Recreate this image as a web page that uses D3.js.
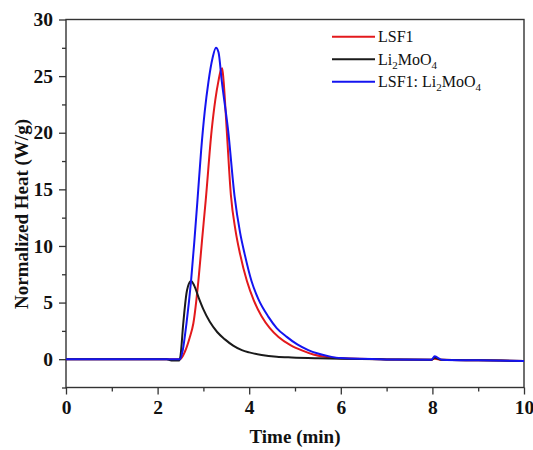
<!DOCTYPE html>
<html>
<head>
<meta charset="utf-8">
<script src="https://cdn.jsdelivr.net/npm/d3@7"></script>
<style>
  body { margin: 0; background: #fff; }
  svg text { font-family: "Liberation Serif", "Times New Roman", serif; }
</style>
</head>
<body>
<svg id="chart"></svg>
<script>
// LSF1
var lsf1Time = [0, 1, 2.2, 2.49, 2.6, 2.7, 2.78, 2.89, 2.97, 3.05, 3.18, 3.26, 3.33, 3.38, 3.41, 3.44, 3.51, 3.6, 3.7, 3.8, 3.95, 4.1, 4.27, 4.45, 4.64, 4.9, 5.15, 5.4, 5.65, 6.0, 7.0, 7.98, 8.05, 8.2, 9.0, 10];
var lsf1Heat = [0, 0, 0, 0, 0.7, 1.9, 3.15, 6.9, 10.5, 14.0, 20.2, 22.9, 24.6, 25.5, 25.7, 24.6, 20.2, 14.5, 11.4, 9.3, 6.9, 5.2, 3.8, 2.75, 1.97, 1.25, 0.78, 0.42, 0.22, 0.08, -0.02, -0.05, 0.05, -0.06, -0.1, -0.15];

// Li2MoO4
var limoTime = [0, 1, 2.2, 2.3, 2.47, 2.5, 2.56, 2.63, 2.7, 2.73, 2.8, 2.9, 3.0, 3.14, 3.3, 3.47, 3.65, 3.84, 4.0, 4.27, 4.6, 4.93, 5.5, 6.0, 7.0, 7.98, 8.05, 8.2, 9.0, 10];
var limoHeat = [0, 0, 0, -0.12, -0.12, 0.3, 3.15, 5.8, 6.8, 6.9, 6.5, 5.4, 4.4, 3.3, 2.4, 1.75, 1.2, 0.8, 0.6, 0.38, 0.22, 0.15, 0.08, 0.04, -0.02, -0.05, 0.12, -0.06, -0.1, -0.15];

// LSF1: Li2MoO4
var mixTime = [0, 1, 2.2, 2.49, 2.55, 2.63, 2.73, 2.8, 2.87, 2.95, 3.03, 3.11, 3.2, 3.275, 3.33, 3.4, 3.54, 3.68, 3.8, 3.9, 4.05, 4.2, 4.42, 4.6, 4.82, 5.05, 5.29, 5.5, 5.75, 6.0, 7.0, 7.98, 8.05, 8.2, 9.0, 10];
var mixHeat = [0, 0, 0, 0, 0.8, 3.15, 6.9, 10.3, 14.0, 18.4, 21.9, 24.5, 26.6, 27.5, 27.1, 24.6, 20.2, 14.4, 11.2, 9.3, 6.9, 5.3, 3.74, 2.75, 1.97, 1.3, 0.8, 0.5, 0.25, 0.1, -0.02, -0.05, 0.25, -0.04, -0.1, -0.15];

var xTicks = [0, 2, 4, 6, 8, 10];
var yTicks = [0, 5, 10, 15, 20, 25, 30];

var series = [
    {label: [["LSF1", false]], time: lsf1Time, heat: lsf1Heat, color: "#e3191c"},
    {label: [["Li", false], ["2", true], ["MoO", false], ["4", true]], time: limoTime, heat: limoHeat, color: "#1a1a1a"},
    {label: [["LSF1: Li", false], ["2", true], ["MoO", false], ["4", true]], time: mixTime, heat: mixHeat, color: "#1414f0"}
];

var serif = "'Liberation Serif', 'Times New Roman', serif";
var svgWidth = 533, svgHeight = 450;
var margin = {top: 19.5, right: 9, bottom: 62.5, left: 66};
var width = svgWidth - margin.left - margin.right;
var height = svgHeight - margin.top - margin.bottom;

var svg = d3.select("#chart")
    .attr("width", svgWidth)
    .attr("height", svgHeight);
var g = svg.append("g")
    .attr("transform", "translate(" + margin.left + "," + margin.top + ")");

var x = d3.scaleLinear().domain([0, 10]).range([0, width]);
var y = d3.scaleLinear().domain([-2.5, 30]).range([height, 0]);

// minor ticks
g.append("g")
    .attr("transform", "translate(0," + height + ")")
    .call(d3.axisBottom(x).tickValues(d3.range(1, 10, 2)).tickSize(4).tickFormat(""));
g.append("g")
    .call(d3.axisLeft(y).tickValues(d3.range(-2.5, 30, 5)).tickSize(4).tickFormat(""));

var xAxis = g.append("g")
    .attr("transform", "translate(0," + height + ")")
    .call(d3.axisBottom(x).tickValues(xTicks).tickSize(7).tickPadding(6).tickSizeOuter(0));
var yAxis = g.append("g")
    .call(d3.axisLeft(y).tickValues(yTicks).tickSize(7).tickPadding(6).tickSizeOuter(0));

[xAxis, yAxis].forEach(function(a) {
    a.attr("font-family", null).attr("font-size", null);
    a.selectAll("text")
        .style("font-family", serif)
        .style("font-size", "19.5px")
        .style("font-weight", "bold")
        .attr("fill", "#111");
});

svg.selectAll(".tick line").attr("stroke", "#333").attr("stroke-width", 1.3);
svg.selectAll(".domain").remove();

// frame
g.append("rect")
    .attr("x", 0).attr("y", 0)
    .attr("width", width).attr("height", height)
    .attr("fill", "none")
    .attr("stroke", "#333")
    .attr("stroke-width", 1.4);

var line = d3.line()
    .x(function(d) { return x(d[0]); })
    .y(function(d) { return y(d[1]); })
    .curve(d3.curveMonotoneX);

series.forEach(function(s) {
    g.append("path")
        .datum(d3.zip(s.time, s.heat))
        .attr("fill", "none")
        .attr("stroke", s.color)
        .attr("stroke-width", 2)
        .attr("stroke-linejoin", "round")
        .attr("d", line);
});

// legend
var legendRows = [36.7, 59.3, 81.7];
series.forEach(function(s, i) {
    svg.append("line")
        .attr("x1", 332).attr("x2", 375)
        .attr("y1", legendRows[i]).attr("y2", legendRows[i])
        .attr("stroke", s.color)
        .attr("stroke-width", 2);
    var t = svg.append("text")
        .attr("x", 378)
        .attr("y", legendRows[i] + 5.5)
        .style("font-family", serif)
        .style("font-size", "16px")
        .attr("fill", "#111");
    var wasSub = false;
    s.label.forEach(function(p) {
        var sp = t.append("tspan").text(p[0]);
        if (p[1]) sp.style("font-size", "11px").attr("dy", 4);
        else if (wasSub) sp.attr("dy", -4);
        wasSub = p[1];
    });
});

// axis titles
svg.append("text")
    .attr("x", margin.left + width / 2)
    .attr("y", 443)
    .attr("text-anchor", "middle")
    .style("font-family", serif)
    .style("font-size", "19px")
    .style("font-weight", "bold")
    .attr("fill", "#111")
    .text("Time (min)");

svg.append("text")
    .attr("transform", "translate(28," + 214 + ") rotate(-90)")
    .attr("text-anchor", "middle")
    .style("font-family", serif)
    .style("font-size", "19px")
    .style("font-weight", "bold")
    .attr("fill", "#111")
    .text("Normalized Heat (W/g)");
</script>
</body>
</html>
